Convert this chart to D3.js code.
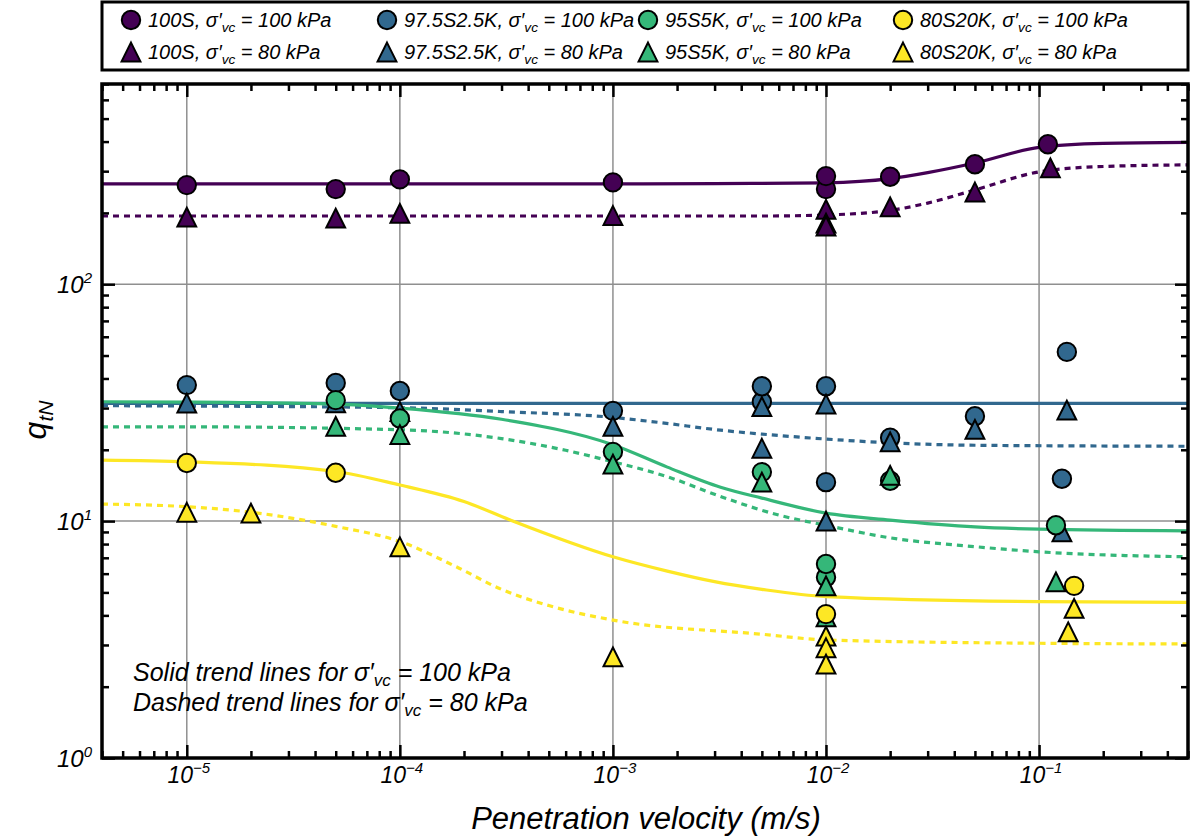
<!DOCTYPE html>
<html>
<head>
<meta charset="utf-8">
<script src="https://cdn.jsdelivr.net/npm/d3@7"></script>
<style>
  body { margin: 0; background: #fff; }
  svg { display: block; }
</style>
</head>
<body>
<svg id="chart" width="1192" height="838"></svg>
<script>
// ---- Measured q_tN, as [penetration velocity (m/s), q_tN] ----
const s100S_100 = [[1e-5,262],[5e-5,252],[1e-4,277],[1e-3,269],[1e-2,252],[1e-2,286],[2e-2,284],[5e-2,321],[0.11,390]];
const s100S_80  = [[1e-5,192],[5e-5,190],[1e-4,199],[1e-3,195],[1e-2,207],[1e-2,181],[1e-2,176],[2e-2,212],[5e-2,245],[0.113,310]];
const s975_100  = [[1e-5,37.5],[5e-5,38.3],[1e-4,35.4],[1e-3,29.2],[5e-3,31.9],[5e-3,37.1],[1e-2,37.1],[1e-2,14.6],[2e-2,22.5],[5e-2,27.7],[0.135,51.8],[0.128,15.1]];
const s975_80   = [[1e-5,31.5],[5e-5,31.6],[1e-4,29.0],[1e-3,25.1],[5e-3,30.4],[5e-3,20.3],[1e-2,31.2],[1e-2,10.0],[2e-2,21.6],[5e-2,24.4],[0.135,29.4],[0.128,9.0]];
const s95_100   = [[5e-5,32.4],[1e-4,27.1],[1e-3,19.6],[5e-3,16.1],[1e-2,5.79],[1e-2,6.59],[2e-2,14.8],[0.12,9.6]];
const s95_80    = [[5e-5,25.1],[1e-4,23.2],[1e-3,17.4],[5e-3,14.6],[1e-2,5.33],[1e-2,3.94],[2e-2,15.6],[0.12,5.54]];
const s80_100   = [[1e-5,17.6],[5e-5,16.0],[1e-2,4.05],[0.146,5.33]];
const s80_80    = [[1e-5,10.9],[2e-5,10.8],[1e-4,7.79],[1e-3,2.67],[1e-2,3.27],[1e-2,2.92],[1e-2,2.49],[0.146,4.28],[0.137,3.41]];

// ---- Trend lines, as [velocity, q_tN] ----
const trend100S_100 = [[4e-6,265],[1e-3,265],[3e-3,266],[1e-2,268],[2e-2,279],[3e-2,296],[5e-2,325],[1e-1,378],[2e-1,393],[5e-1,397]];
const trend100S_80  = [[4e-6,194],[5e-3,194],[1e-2,196],[2e-2,205],[3e-2,220],[5e-2,250],[1e-1,298],[2e-1,314],[5e-1,319]];
const trend975_100  = [[4e-6,31.4],[5e-1,31.4]];
const trend975_80   = [[4e-6,30.7],[1e-5,30.6],[1e-4,30.1],[3e-4,29.0],[1e-3,27.4],[1.7e-3,26.0],[3.2e-3,24.2],[5e-3,23.3],[1e-2,22.2],[2e-2,21.4],[5e-2,20.9],[5e-1,20.7]];
const trend95_100   = [[4e-6,31.9],[1e-5,31.8],[5e-5,31.2],[1e-4,30.0],[3e-4,26.9],[1e-3,21.0],[1.8e-3,16.9],[3.2e-3,13.9],[5e-3,12.5],[1e-2,10.8],[2e-2,10.1],[5e-2,9.45],[1e-1,9.25],[5e-1,9.1]];
const trend95_80    = [[4e-6,25.0],[1e-5,25.0],[1e-4,24.3],[3e-4,22.3],[6e-4,19.9],[1e-3,17.8],[1.8e-3,15.4],[3.2e-3,12.7],[6e-3,10.6],[1e-2,9.6],[2e-2,8.5],[5e-2,7.8],[1e-1,7.42],[5e-1,7.07]];
const trend80_100   = [[4e-6,18.1],[1e-5,17.8],[5e-5,16.2],[1e-4,14.2],[2e-4,12.1],[3.3e-4,10.1],[1e-3,7.07],[1.8e-3,6.15],[3e-3,5.55],[5e-3,5.15],[1e-2,4.8],[1e-1,4.57],[5e-1,4.54]];
const trend80_80    = [[4e-6,11.8],[1e-5,11.5],[2e-5,10.9],[5e-5,9.5],[1e-4,8.2],[1.85e-4,6.4],[3e-4,5.15],[5e-4,4.4],[1e-3,3.82],[5e-3,3.33],[1e-2,3.15],[1e-1,3.05],[5e-1,3.03]];

// ---- Categories and tick labels ----
const mixtures = ["100S", "97.5S2.5K", "95S5K", "80S20K"];
const stresses = [100, 80];               // effective vertical stress, kPa
const xMajorTicks = [1e-5, 1e-4, 1e-3, 1e-2, 1e-1];
const xTickExponents = ["\u22125", "\u22124", "\u22123", "\u22122", "\u22121"];
const yMajorTicks = [1, 10, 100];
const yTickExponents = ["0", "1", "2"];

// ---- Styling ----
const colors = ["#440154", "#31688e", "#35b779", "#fde725"];
const FONT = "'Liberation Sans', Arial, Helvetica, sans-serif";

const seriesList = [
  { mix: 0, stress: 0, marker: "circle",   data: s100S_100 },
  { mix: 0, stress: 1, marker: "triangle", data: s100S_80 },
  { mix: 1, stress: 0, marker: "circle",   data: s975_100 },
  { mix: 1, stress: 1, marker: "triangle", data: s975_80 },
  { mix: 2, stress: 0, marker: "circle",   data: s95_100 },
  { mix: 2, stress: 1, marker: "triangle", data: s95_80 },
  { mix: 3, stress: 0, marker: "circle",   data: s80_100 },
  { mix: 3, stress: 1, marker: "triangle", data: s80_80 }
];
const trendList = [
  { mix: 0, dashed: false, data: trend100S_100 },
  { mix: 0, dashed: true,  data: trend100S_80 },
  { mix: 1, dashed: false, data: trend975_100 },
  { mix: 1, dashed: true,  data: trend975_80 },
  { mix: 2, dashed: false, data: trend95_100 },
  { mix: 2, dashed: true,  data: trend95_80 },
  { mix: 3, dashed: false, data: trend80_100 },
  { mix: 3, dashed: true,  data: trend80_80 }
];

const svg = d3.select("#chart");
const M = { left: 102, right: 1188, top: 84, bottom: 758 };

const x = d3.scaleLog().domain([4e-6, 0.5]).range([M.left, M.right]);
const y = d3.scaleLog().domain([1, 700]).range([M.bottom, M.top]);

svg.append("rect").attr("width", 1192).attr("height", 838).attr("fill", "#fff");

svg.append("defs").append("clipPath").attr("id", "plotClip")
  .append("rect")
  .attr("x", M.left).attr("y", M.top)
  .attr("width", M.right - M.left).attr("height", M.bottom - M.top);

// ---- Grid at the decades ----
const grid = svg.append("g").attr("stroke", "#8f8f8f").attr("stroke-width", 1.5);
grid.selectAll("line.gx").data(xMajorTicks).join("line")
  .attr("x1", d => x(d)).attr("x2", d => x(d))
  .attr("y1", M.top).attr("y2", M.bottom);
grid.selectAll("line.gy").data(yMajorTicks.filter(d => d > 1)).join("line")
  .attr("x1", M.left).attr("x2", M.right)
  .attr("y1", d => y(d)).attr("y2", d => y(d));

// ---- Trend lines ----
const line = d3.line()
  .x(d => x(d[0]))
  .y(d => y(d[1]))
  .curve(d3.curveMonotoneX);

svg.append("g").attr("clip-path", "url(#plotClip)")
  .selectAll("path").data(trendList).join("path")
  .attr("d", d => line(d.data))
  .attr("fill", "none")
  .attr("stroke", d => colors[d.mix])
  .attr("stroke-width", 3.2)
  .attr("stroke-dasharray", d => d.dashed ? "6,5" : null);

// ---- Markers ----
const triPath = s => `M0,${-s}L${s},${s}L${-s},${s}Z`;
function drawMarker(sel, marker, color) {
  if (marker === "circle") {
    sel.append("circle").attr("r", 9.2);
  } else {
    sel.append("path").attr("d", triPath(9.4));
  }
  sel.selectAll("circle,path")
    .attr("fill", color)
    .attr("stroke", "#000")
    .attr("stroke-width", 2)
    .attr("stroke-linejoin", "miter");
}

const markers = svg.append("g");
seriesList.forEach(s => {
  s.data.forEach(p => {
    const g = markers.append("g")
      .attr("transform", `translate(${x(p[0])},${y(p[1])})`);
    drawMarker(g, s.marker, colors[s.mix]);
  });
});

// ---- Frame and ticks (inward, on all four sides) ----
const xMinor = x.ticks().filter(v => !xMajorTicks.some(m => Math.abs(m - v) / m < 1e-6));
const yMinor = y.ticks().filter(v => !yMajorTicks.some(m => Math.abs(m - v) / m < 1e-6));

function tickGroup(axis, transform) {
  const g = svg.append("g").attr("transform", transform).call(axis);
  g.select(".domain").remove();
  g.selectAll(".tick line").attr("stroke", "#000").attr("stroke-width", 2.5);
  g.selectAll(".tick text").remove();
  return g;
}
tickGroup(d3.axisBottom(x).tickValues(xMajorTicks).tickSize(-13), `translate(0,${M.bottom})`);
tickGroup(d3.axisBottom(x).tickValues(xMinor).tickSize(-7), `translate(0,${M.bottom})`);
tickGroup(d3.axisTop(x).tickValues(xMajorTicks).tickSize(-13), `translate(0,${M.top})`);
tickGroup(d3.axisTop(x).tickValues(xMinor).tickSize(-7), `translate(0,${M.top})`);
tickGroup(d3.axisLeft(y).tickValues(yMajorTicks).tickSize(-13), `translate(${M.left},0)`);
tickGroup(d3.axisLeft(y).tickValues(yMinor).tickSize(-7), `translate(${M.left},0)`);
tickGroup(d3.axisRight(y).tickValues(yMajorTicks).tickSize(-13), `translate(${M.right},0)`);
tickGroup(d3.axisRight(y).tickValues(yMinor).tickSize(-7), `translate(${M.right},0)`);

svg.append("rect")
  .attr("x", M.left).attr("y", M.top)
  .attr("width", M.right - M.left).attr("height", M.bottom - M.top)
  .attr("fill", "none").attr("stroke", "#000").attr("stroke-width", 3.5);

// ---- Tick labels (powers of ten) ----
function powerLabel(sel, exp) {
  sel.append("tspan").text("10");
  sel.append("tspan").attr("dy", -10).attr("font-size", 15).text(exp);
}
xMajorTicks.forEach((v, i) => {
  const t = svg.append("text")
    .attr("x", x(v) + 2).attr("y", 783)
    .attr("text-anchor", "middle")
    .attr("font-family", FONT).attr("font-style", "italic")
    .attr("font-size", 23).attr("fill", "#000");
  powerLabel(t, xTickExponents[i]);
});
yMajorTicks.forEach((v, i) => {
  const t = svg.append("text")
    .attr("x", 92).attr("y", y(v) + 9)
    .attr("text-anchor", "end")
    .attr("font-family", FONT).attr("font-style", "italic")
    .attr("font-size", 24).attr("fill", "#000");
  powerLabel(t, yTickExponents[i]);
});

// ---- Axis titles ----
svg.append("text")
  .attr("x", 646).attr("y", 829)
  .attr("text-anchor", "middle")
  .attr("font-family", FONT).attr("font-style", "italic")
  .attr("font-size", 31).attr("fill", "#000")
  .text("Penetration velocity (m/s)");

const yTitle = svg.append("text")
  .attr("transform", "translate(46,420) rotate(-90)")
  .attr("text-anchor", "middle")
  .attr("font-family", FONT).attr("font-style", "italic")
  .attr("font-size", 32).attr("fill", "#000");
yTitle.append("tspan").text("q");
yTitle.append("tspan").attr("dy", 7).attr("font-size", 21).text("tN");

// ---- σ′vc label helper ----
function stressLabel(sel, prefix, stress) {
  sel.append("tspan").text(prefix + "\u03c3\u2032");
  sel.append("tspan").attr("dy", 5).attr("font-size", "0.68em").text("vc");
  sel.append("tspan").attr("dy", -5).text(" = " + stress + " kPa");
}

// ---- Legend ----
svg.append("rect")
  .attr("x", M.left).attr("y", 2)
  .attr("width", M.right - M.left).attr("height", 68)
  .attr("fill", "#fff").attr("stroke", "#000").attr("stroke-width", 3);

const legendCols = [131, 387, 648, 903];
const legendRows = [20, 52];
seriesList.forEach(s => {
  const cx = legendCols[s.mix], cy = legendRows[s.stress];
  const g = svg.append("g").attr("transform", `translate(${cx},${cy})`);
  drawMarker(g, s.marker, colors[s.mix]);
  const t = svg.append("text")
    .attr("x", cx + 17).attr("y", cy + 7)
    .attr("font-family", FONT).attr("font-style", "italic")
    .attr("font-size", 20).attr("fill", "#000");
  stressLabel(t, mixtures[s.mix] + ", ", stresses[s.stress]);
});

// ---- Note on line styles ----
const note1 = svg.append("text")
  .attr("x", 133).attr("y", 681)
  .attr("font-family", FONT).attr("font-style", "italic")
  .attr("font-size", 25).attr("fill", "#000");
stressLabel(note1, "Solid trend lines for ", stresses[0]);
const note2 = svg.append("text")
  .attr("x", 133).attr("y", 711)
  .attr("font-family", FONT).attr("font-style", "italic")
  .attr("font-size", 25).attr("fill", "#000");
stressLabel(note2, "Dashed trend lines for ", stresses[1]);
</script>
</body>
</html>
